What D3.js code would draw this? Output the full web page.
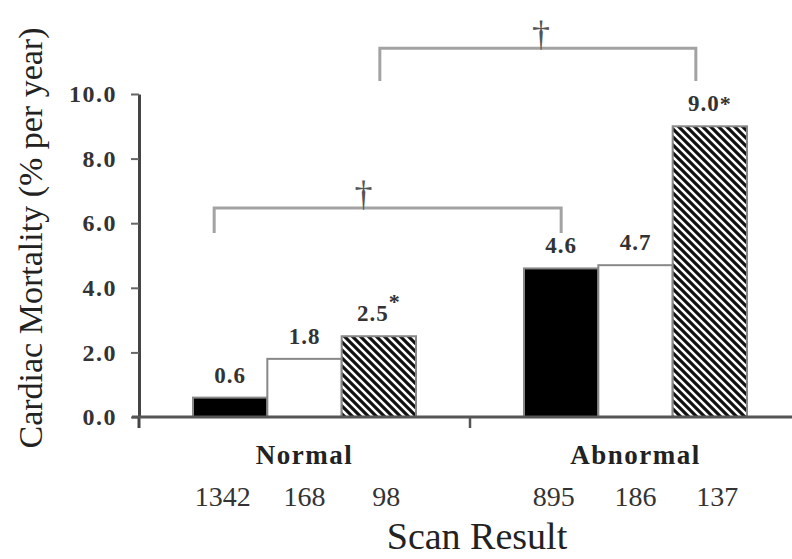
<!DOCTYPE html>
<html>
<head>
<meta charset="utf-8">
<script src="https://cdn.jsdelivr.net/npm/d3@7"></script>
<style>
  body { margin: 0; background: #fff; }
  text { font-family: "Liberation Serif", "Times New Roman", serif; }
</style>
</head>
<body>
<svg id="chart" width="792" height="559"></svg>
<script>
// data
let groups = ["Normal", "Abnormal"];
let normalRates = [0.6, 1.8, 2.5];
let abnormalRates = [4.6, 4.7, 9.0];
let normalCounts = ["1342", "168", "98"];
let abnormalCounts = ["895", "186", "137"];
let starred = [false, false, true, false, false, true];
let yTicks = [0, 2, 4, 6, 8, 10];

let rates = [normalRates, abnormalRates],
    counts = [normalCounts, abnormalCounts];

let bars = [];
groups.forEach(function(g, gi){
  rates[gi].forEach(function(v, i){
    bars.push({group: g, gi: gi, sub: i, value: v, n: counts[gi][i], star: starred[gi * 3 + i]});
  });
});

let svg = d3.select("#chart");

let x0 = d3.scaleBand().domain(groups).range([139, 801]),
    x1 = d3.scaleBand().domain([0, 1, 2]).range([0, 223]),
    y = d3.scaleLinear().domain([0, 10]).range([417, 94]);

let off = (x0.bandwidth() - 223) / 2;
function barX(d){ return x0(d.group) + off + x1(d.sub); }
function barC(d){ return barX(d) + x1.bandwidth() / 2; }

// hatch pattern
let defs = svg.append("defs");
let pat = defs.append("pattern")
  .attr("id", "hatch")
  .attr("patternUnits", "userSpaceOnUse")
  .attr("width", 8).attr("height", 8);
pat.append("rect").attr("width", 8).attr("height", 8).attr("fill", "#fff");
pat.append("path")
  .attr("d", "M-2,-2 L10,10 M-2,6 L2,10 M6,-2 L10,2")
  .attr("stroke", "#111").attr("stroke-width", 3.2);

// bars
let fills = ["#000", "#fff", "url(#hatch)"];
svg.append("g").selectAll("rect")
  .data(bars)
  .enter().append("rect")
    .attr("x", barX)
    .attr("y", function(d){ return y(d.value); })
    .attr("width", x1.bandwidth())
    .attr("height", function(d){ return y(0) - y(d.value); })
    .attr("fill", function(d){ return fills[d.sub]; })
    .attr("stroke", "#888")
    .attr("stroke-width", 2);

// value labels
let lab = svg.append("g").selectAll("text")
  .data(bars)
  .enter().append("text")
    .attr("x", barC)
    .attr("y", function(d){ return y(d.value) - 15; })
    .attr("text-anchor", "middle")
    .style("font-size", "23px")
    .style("font-weight", "bold")
    .style("letter-spacing", "1px")
    .attr("fill", "#333")
    .text(function(d){ return d3.format(".1f")(d.value); });

lab.filter(function(d){ return d.star; })
  .append("tspan")
    .attr("dy", function(d){ return d.gi === 0 ? -12 : 0; })
    .style("font-size", "22px")
    .text("*");

// y axis
let yAxis = d3.axisLeft(y)
  .tickValues(yTicks)
  .tickFormat(d3.format(".1f"))
  .tickSize(8)
  .tickSizeOuter(0)
  .tickPadding(14);

let gy = svg.append("g").attr("transform", "translate(139,0)").call(yAxis);
gy.select(".domain").attr("stroke", "#444").attr("stroke-width", 3);
gy.selectAll(".tick line").attr("stroke", "#666").attr("stroke-width", 2);
gy.selectAll(".tick text")
  .attr("fill", "#333")
  .style("font-family", "Liberation Serif")
  .style("font-size", "24px")
  .style("font-weight", "bold")
  .style("letter-spacing", "1.5px");

svg.append("line")
  .attr("x1", 139).attr("x2", 139)
  .attr("y1", y(0)).attr("y2", y(0) + 11)
  .attr("stroke", "#444").attr("stroke-width", 3);

// x axis line and group ticks
svg.append("line")
  .attr("x1", 132).attr("x2", 792)
  .attr("y1", y(0)).attr("y2", y(0))
  .attr("stroke", "#555").attr("stroke-width", 3);

svg.append("g").selectAll("line")
  .data(groups.slice(1))
  .enter().append("line")
    .attr("x1", function(g){ return x0(g); })
    .attr("x2", function(g){ return x0(g); })
    .attr("y1", y(0)).attr("y2", y(0) + 11)
    .attr("stroke", "#555").attr("stroke-width", 2.5);

// group names
svg.append("g").selectAll("text")
  .data(groups)
  .enter().append("text")
    .attr("x", function(g){ return x0(g) + x0.bandwidth() / 2; })
    .attr("y", 464)
    .attr("text-anchor", "middle")
    .style("font-size", "27px")
    .style("font-weight", "bold")
    .style("letter-spacing", "1.5px")
    .attr("fill", "#222")
    .text(function(g){ return g; });

// sample sizes
svg.append("g").selectAll("text")
  .data(bars)
  .enter().append("text")
    .attr("x", function(d){
      let mid = x0(d.group) + x0.bandwidth() / 2;
      return mid + (barC(d) - mid) * 1.1;
    })
    .attr("y", 506)
    .attr("text-anchor", "middle")
    .style("font-size", "28px")
    .attr("fill", "#333")
    .text(function(d){ return d.n; });

// axis titles
svg.append("text")
  .attr("x", 477).attr("y", 549)
  .attr("text-anchor", "middle")
  .style("font-size", "38px")
  .attr("fill", "#222")
  .text("Scan Result");

svg.append("text")
  .attr("transform", "translate(42,238) rotate(-90)")
  .attr("text-anchor", "middle")
  .style("font-size", "34px")
  .attr("fill", "#222")
  .text("Cardiac Mortality (% per year)");

// significance brackets
let brackets = [
  {a: bars[0], b: bars[3], da: -16, db: 0, level: 6.47, leg: 5.7, mark: 0.43},
  {a: bars[2], b: bars[5], da: 1, db: -14, level: 11.42, leg: 10.4, mark: 0.51}
];

let gb = svg.append("g");
brackets.forEach(function(br){
  let xa = barC(br.a) + br.da, xb = barC(br.b) + br.db;
  gb.append("path")
    .attr("d", "M" + xa + "," + y(br.leg) + "V" + y(br.level) + "H" + xb + "V" + y(br.leg))
    .attr("fill", "none")
    .attr("stroke", "#a3a3a3")
    .attr("stroke-width", 3);
  gb.append("text")
    .attr("x", xa + (xb - xa) * br.mark)
    .attr("y", y(br.level) - 2)
    .attr("text-anchor", "middle")
    .style("font-size", "36px")
    .attr("fill", "#555")
    .text("\u2020");
});
</script>
</body>
</html>
